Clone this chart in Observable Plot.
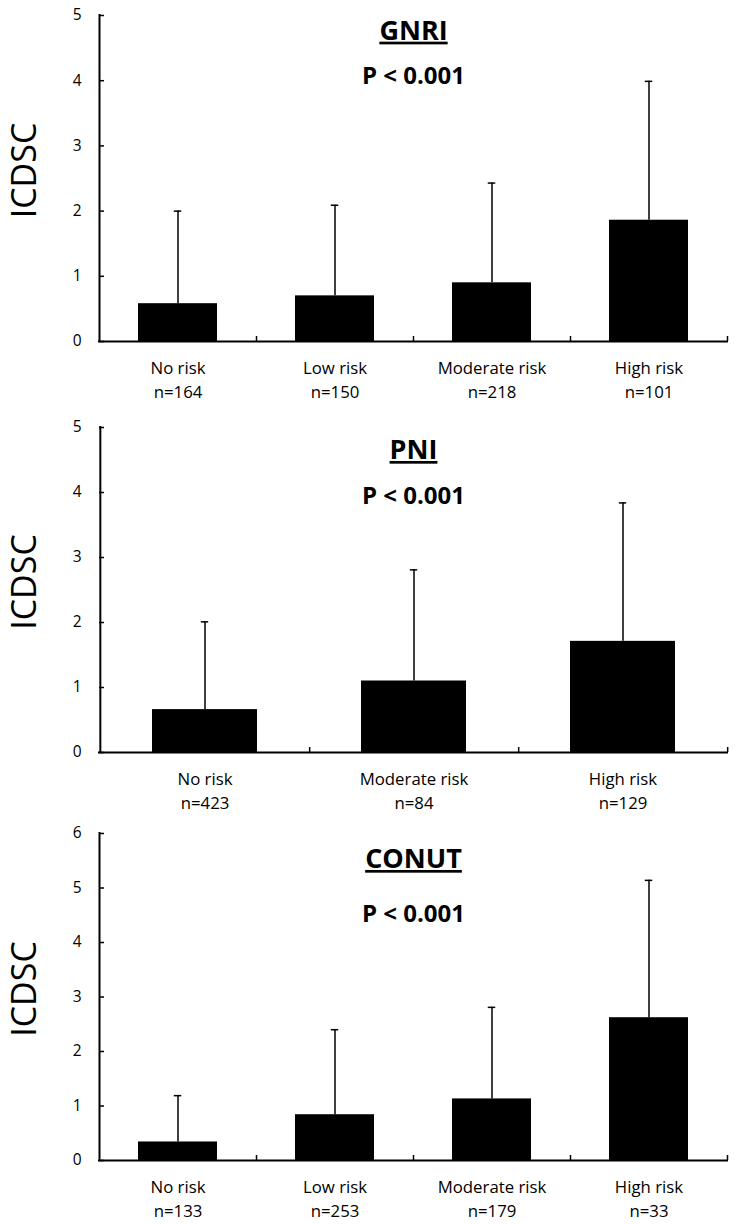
<!DOCTYPE html>
<html><head><meta charset="utf-8">
<script src="https://cdn.jsdelivr.net/npm/d3@7"></script>
<script src="https://cdn.jsdelivr.net/npm/@observablehq/plot@0.6"></script>
<style>
body{margin:0;background:#fff}
#chart svg{display:block}
</style>
</head><body><div id="chart"></div>
<script>
// ---- data ----
const yLabel = "ICDSC";

const gnriTitle = "GNRI";
const gnriP = "P < 0.001";
const gnriCategories = ["No risk", "Low risk", "Moderate risk", "High risk"];
const gnriN = [164, 150, 218, 101];
const gnriMean = [0.58, 0.70, 0.90, 1.86];
const gnriSD = [1.42, 1.39, 1.53, 2.13];
const gnriTicks = [0, 1, 2, 3, 4, 5];

const pniTitle = "PNI";
const pniP = "P < 0.001";
const pniCategories = ["No risk", "Moderate risk", "High risk"];
const pniN = [423, 84, 129];
const pniMean = [0.66, 1.10, 1.71];
const pniSD = [1.35, 1.71, 2.13];
const pniTicks = [0, 1, 2, 3, 4, 5];

const conutTitle = "CONUT";
const conutP = "P < 0.001";
const conutCategories = ["No risk", "Low risk", "Moderate risk", "High risk"];
const conutN = [133, 253, 179, 33];
const conutMean = [0.34, 0.84, 1.13, 2.62];
const conutSD = [0.85, 1.56, 1.68, 2.52];
const conutTicks = [0, 1, 2, 3, 4, 5, 6];

function panel(cfg) {
  const {title, p, categories, n, mean, sd, ticks, marginTop, plotHeight, marginBottom, titleDy, pDy} = cfg;
  const width = 735, marginLeft = 99, marginRight = 8;
  const plotWidth = width - marginLeft - marginRight;
  const step = plotWidth / categories.length;
  const bandwidth = step * 0.5;
  const capInset = (bandwidth - 7) / 2;
  const rows = categories.map((c, i) => ({cat: c, n: n[i], mean: mean[i], sd: sd[i]}));
  const svg = Plot.plot({
    width,
    height: marginTop + plotHeight + marginBottom,
    marginTop, marginBottom, marginLeft, marginRight,
    style: {fontFamily: "'Open Sans', sans-serif", color: "#000", background: "#fff", overflow: "visible"},
    x: {type: "band", domain: categories, paddingInner: 0.5, paddingOuter: 0.25, axis: null, label: null},
    y: {domain: [d3.min(ticks), d3.max(ticks)], axis: null, label: null},
    marks: [
      Plot.barY(rows, {x: "cat", y: "mean", fill: "#000"}),
      Plot.ruleX(rows, {x: "cat", y1: "mean", y2: d => d.mean + d.sd, stroke: "#000", strokeWidth: 1.5}),
      Plot.tickY(rows, {x: "cat", y: d => d.mean + d.sd, stroke: "#000", strokeWidth: 1.5, insetLeft: capInset, insetRight: capInset}),
      Plot.ruleY([0], {stroke: "#000", strokeWidth: 2, strokeLinecap: "square"}),
      Plot.ruleX([categories[0]], {x: d => d, dx: -step / 2, stroke: "#000", strokeWidth: 2, strokeLinecap: "square"}),
      Plot.ruleX(categories, {x: d => d, dx: step / 2, y1: 0, y2: 0, insetTop: -5, stroke: "#000", strokeWidth: 1.5}),
      Plot.tickY(ticks, {y: d => d, insetRight: plotWidth - 5, stroke: "#000", strokeWidth: 1.5}),
      Plot.axisY({ticks, tickFormat: d => String(d), tickSize: 0, tickPadding: 18, fontSize: 15.5, label: null}),
      Plot.text(rows, {x: "cat", text: "cat", frameAnchor: "bottom", dy: 27, fontSize: 16.8, lineAnchor: "middle"}),
      Plot.text(rows, {x: "cat", text: d => "n=" + d.n, frameAnchor: "bottom", dy: 51.5, fontSize: 16.8, lineAnchor: "middle"}),
      Plot.text([title], {text: d => d, frameAnchor: "top", lineAnchor: "top", dy: titleDy, fontSize: 27, fontWeight: "bold"}),
      Plot.text([p], {text: d => d, frameAnchor: "top", lineAnchor: "top", dy: pDy, fontSize: 24, fontWeight: "bold"}),
      Plot.text([yLabel], {text: d => d, frameAnchor: "left", textAnchor: "middle", lineAnchor: "middle", rotate: -90, dx: -74.5, dy: -8, fontSize: 34})
    ]
  });
  svg.querySelectorAll("text").forEach(t => {
    if (t.textContent === title) t.style.textDecoration = "underline";
  });
  return svg;
}

const chart = document.getElementById("chart");
chart.appendChild(panel({title: gnriTitle, p: gnriP, categories: gnriCategories, n: gnriN, mean: gnriMean, sd: gnriSD, ticks: gnriTicks,
  marginTop: 15, plotHeight: 326, marginBottom: 64, titleDy: 5, pDy: 51.7}));
chart.appendChild(panel({title: pniTitle, p: pniP, categories: pniCategories, n: pniN, mean: pniMean, sd: pniSD, ticks: pniTicks,
  marginTop: 22, plotHeight: 325, marginBottom: 58, titleDy: 12.3, pDy: 59}));
chart.appendChild(panel({title: conutTitle, p: conutP, categories: conutCategories, n: conutN, mean: conutMean, sd: conutSD, ticks: conutTicks,
  marginTop: 23, plotHeight: 327, marginBottom: 64, titleDy: 15.3, pDy: 71}));
</script>
</body></html>
